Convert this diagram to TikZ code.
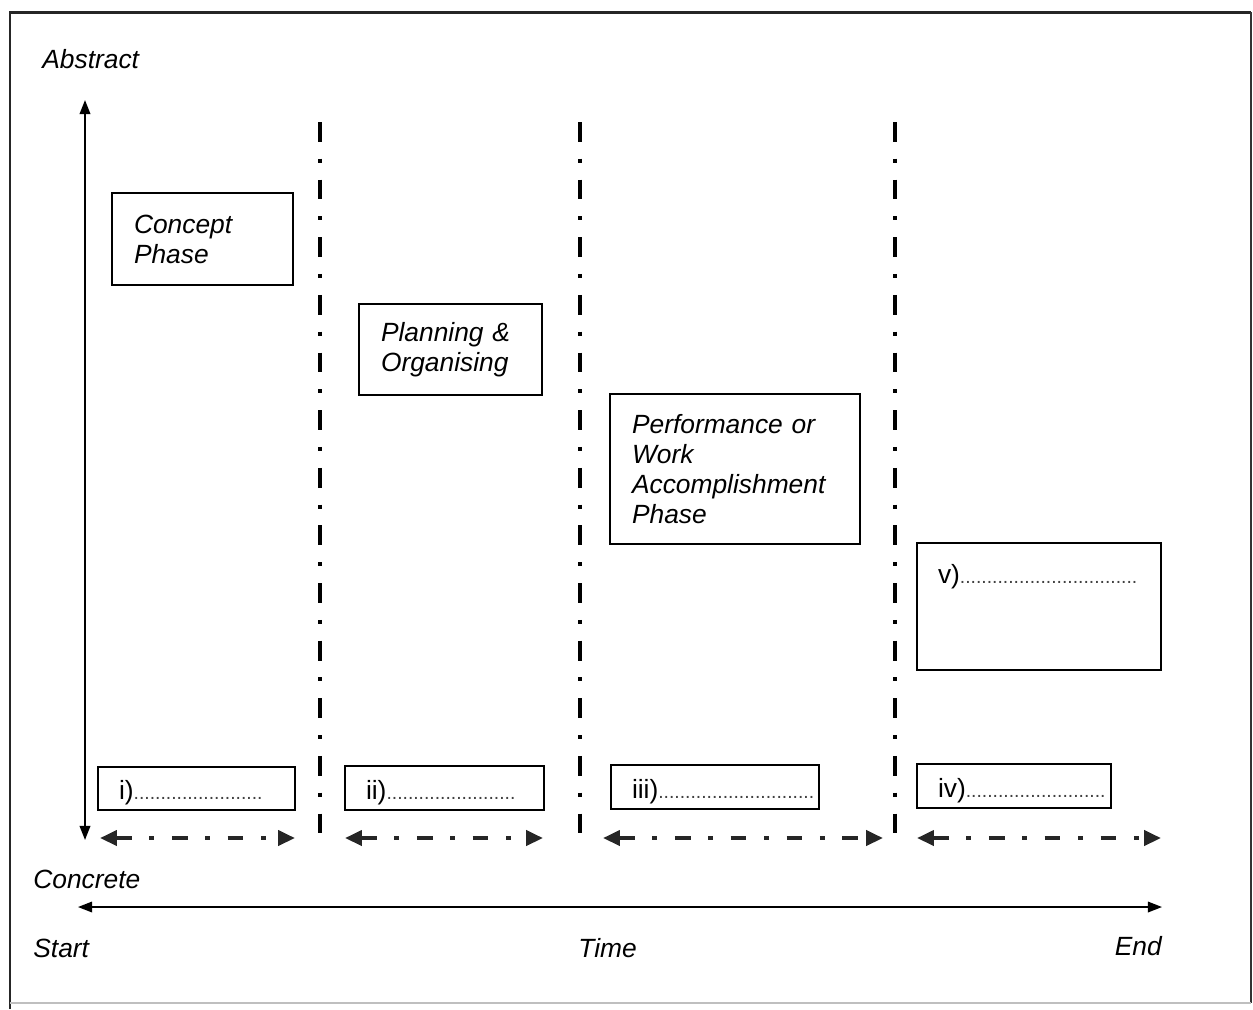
\documentclass[tikz,border=0pt]{standalone}
\usepackage{fontspec}
\setmainfont{Liberation Sans}
\usetikzlibrary{arrows.meta}
\begin{document}
\begin{tikzpicture}[x=0.02cm,y=-0.02cm,
  txt/.style={font=\fontsize{15}{17}\selectfont\itshape, inner sep=0pt},
  phasebox/.style={draw, line width=0.85pt, font=\fontsize{15}{17}\selectfont\itshape,
     align=left, inner xsep=0.44cm, inner ysep=0pt},
  slotbox/.style={draw, line width=0.85pt, font=\fontsize{15}{17}\selectfont,
     align=left, inner xsep=0.42cm, inner ysep=0pt, text height=13pt, text depth=0pt},
  axis/.style={line width=1.1pt, {Triangle[length=8pt,width=6pt]}-{Triangle[length=8pt,width=6pt]}},
  divider/.style={line width=2.3pt, dash pattern=on 11.3pt off 9.6pt on 2.3pt off 9.6pt},
  span/.style={line width=2.2pt, black!85, dash pattern=on 9pt off 10pt on 2.8pt off 10pt,
     {Triangle[length=9.6pt,width=8.5pt]}-{Triangle[length=9.6pt,width=8.5pt]}}
]
\useasboundingbox (0,0) rectangle (1253,1009);
% frame
\draw[line width=1.7pt, black!85] (10,1009) -- (10,12) -- (1251,12);
\draw[line width=0.6pt, black!80] (1251,12) -- (1251,1003);
\draw[line width=0.6pt, black!25] (10,1003) -- (1251,1003);

\newcommand{\dotrow}[1]{{\fontsize{11}{13}\selectfont\color{black!75}\foreach\k in {1,...,#1}{.}}}

% axis labels
\node[txt, anchor=base west] (abstract) at (42,68) {Abstract};
\node[txt, anchor=base west] (concrete) at (33,888) {Concrete};
\node[txt, anchor=base west] (start) at (33,957) {Start};
\node[txt, anchor=base west] (time) at (578,957) {Time};
\node[txt, anchor=base east] (end) at (1162,955) {End};

% axes
\coordinate (ytop) at (85,100);
\coordinate (ybot) at (85,840);
\draw[axis] (ybot) -- (ytop);
\coordinate (tl) at (78,907);
\coordinate (tr) at (1162,907);
\draw[axis, line width=0.9pt] (tl) -- (tr);

% dividers
\foreach \n/\x in {d1/320, d2/580, d3/895}{
  \coordinate (\n top) at (\x,122);
  \coordinate (\n bot) at (\x,840);
  \draw[divider] (\n top) -- (\n bot);
}

% phase boxes
\node[phasebox, minimum width=3.62cm, minimum height=1.84cm, text width=2.74cm] (concept) at (202.5,239) {Concept\\Phase};
\node[phasebox, minimum width=3.66cm, minimum height=1.82cm, text width=2.78cm] (planning) at (450.5,349.5) {Planning \&\\Organising};
\node[phasebox, minimum width=5.0cm, minimum height=3.0cm, text width=4.12cm] (perf) at (735,469) {Performance or\\Work\\Accomplishment\\Phase};
\node[slotbox, minimum width=4.88cm, minimum height=2.54cm, text width=4.04cm, text height=0pt, text depth=26.6pt] (v) at (1039,606.5) {v)\dotrow{33}};

% slot boxes
\node[slotbox, minimum width=3.94cm, minimum height=0.86cm, text width=3.1cm] (i) at (196.5,788.5) {i)\dotrow{24}};
\node[slotbox, minimum width=3.98cm, minimum height=0.88cm, text width=3.14cm] (ii) at (444.5,788) {ii)\dotrow{24}};
\node[slotbox, minimum width=4.16cm, minimum height=0.88cm, text width=3.32cm] (iii) at (715,787) {iii)\dotrow{29}};
\node[slotbox, minimum width=3.88cm, minimum height=0.88cm, text width=3.04cm] (iv) at (1014,786) {iv)\dotrow{26}};

% span arrows
\foreach \n/\a/\b in {s1/100/295, s2/345/543, s3/603/883, s4/917/1161}{
  \coordinate (\n l) at (\a,838);
  \coordinate (\n r) at (\b,838);
  \draw[span] (\n l) -- (\n r);
}
\end{tikzpicture}
\end{document}
